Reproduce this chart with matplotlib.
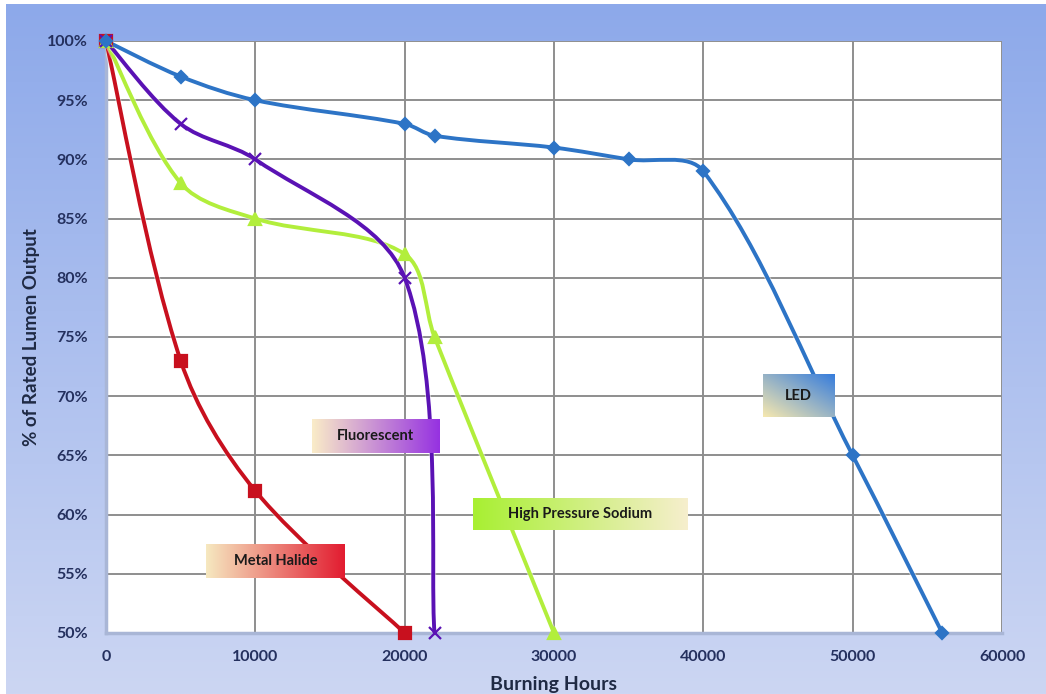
import numpy as np
import matplotlib
matplotlib.use("Agg")
import matplotlib.pyplot as plt
from matplotlib.path import Path
from matplotlib.patches import PathPatch
import matplotlib.patheffects as pe

plt.rcParams['font.family'] = ['Lato', 'DejaVu Sans']

# ---- data -------------------------------------------------------------
led_hours = [0, 5000, 10000, 20000, 22000, 30000, 35000, 40000, 50000, 56000]
led_pct = [100, 97, 95, 93, 92, 91, 90, 89, 65, 50]

fluor_hours = [0, 5000, 10000, 20000, 22000]
fluor_pct = [100, 93, 90, 80, 50]

hps_hours = [0, 5000, 10000, 20000, 22000, 30000]
hps_pct = [100, 88, 85, 82, 75, 50]

mh_hours = [0, 5000, 10000, 20000]
mh_pct = [100, 73, 62, 50]

x_ticks = [0, 10000, 20000, 30000, 40000, 50000, 60000]
y_ticks = [50, 55, 60, 65, 70, 75, 80, 85, 90, 95, 100]

W, H = 1046, 694
fig = plt.figure(figsize=(W / 100, H / 100), dpi=100)
fig.patch.set_facecolor('white')

# ---- blue gradient backdrop ------------------------------------------
bg = fig.add_axes([6 / W, 0, 1 - 6 / W, 1 - 4 / H])
top = np.array([141, 169, 234]) / 255
bot = np.array([204, 214, 243]) / 255
t = np.linspace(0, 1, 256)[:, None]
grad = top[None, :] * (1 - t) + bot[None, :] * t
grad = np.repeat(grad[:, None, :], 4, axis=1)
bg.imshow(grad, aspect='auto', extent=[0, 1, 0, 1], origin='upper')
bg.set_axis_off()

# ---- main plot --------------------------------------------------------
left, right = 106 / W, 1002 / W
bottom, topy = 1 - 633 / H, 1 - 41 / H
ax = fig.add_axes([left, bottom, right - left, topy - bottom])
ax.set_facecolor('white')
ax.set_zorder(2)
ax.set_xlim(0, 60000)
ax.set_ylim(50, 100)

ax.set_xticks(x_ticks)
ax.set_yticks(y_ticks)
ax.set_xticklabels([str(v) for v in x_ticks])
ax.set_yticklabels([f"{v}%" for v in y_ticks])
ax.grid(True, color='#8e8e8e', lw=1.4)
ax.set_axisbelow(True)
ax.tick_params(length=0, labelsize=11.5, labelcolor='#24305e')
ax.tick_params(axis='x', pad=12)
ax.tick_params(axis='y', pad=13)
for lab in ax.get_xticklabels() + ax.get_yticklabels():
    lab.set_fontweight('bold')
for s in ['top', 'right']:
    ax.spines[s].set_visible(False)
for s in ['left', 'bottom']:
    ax.spines[s].set_color('#a9b6d6')
    ax.spines[s].set_linewidth(2.5)

ax.set_xlabel('Burning Hours', fontsize=14, fontweight='bold', color='#1f2a44', labelpad=9)
ax.set_ylabel('% of Rated Lumen Output', fontsize=13.5, fontweight='bold', color='#1f2a44', labelpad=5)


def smooth_path(xs, ys):
    """Smoothed cubic Bezier through the points, with handles scaled by
    neighbouring segment lengths (computed in screen space)."""
    data = np.column_stack([xs, ys]).astype(float)
    pts = ax.transData.transform(data)
    n = len(pts)
    seg = np.linalg.norm(np.diff(pts, axis=0), axis=1)
    out_h, in_h = [None] * n, [None] * n
    for i in range(n):
        if i == 0:
            out_h[i] = pts[0] + (pts[1] - pts[0]) / 6.0
            continue
        if i == n - 1:
            in_h[i] = pts[i] - (pts[i] - pts[i - 1]) / 6.0
            continue
        d = pts[i + 1] - pts[i - 1]
        total = seg[i - 1] + seg[i]
        out_h[i] = pts[i] + d * (seg[i] / total) / 3.0
        in_h[i] = pts[i] - d * (seg[i - 1] / total) / 3.0
    verts = [pts[0]]
    codes = [Path.MOVETO]
    for i in range(n - 1):
        verts += [out_h[i], in_h[i + 1], pts[i + 1]]
        codes += [Path.CURVE4] * 3
    verts = ax.transData.inverted().transform(np.array(verts))
    return Path(verts, codes)


series = [
    (mh_hours, mh_pct, '#c8101e', 's', 8),
    (hps_hours, hps_pct, '#b2ee3c', '^', 8),
    (fluor_hours, fluor_pct, '#5a12b4', 'x', 8),
    (led_hours, led_pct, '#2d74c6', 'D', 6.5),
]

for xs, ys, col, mk, ms in series:
    patch = PathPatch(smooth_path(xs, ys), facecolor='none', edgecolor=col,
                      lw=2.8, transform=ax.transData, zorder=3, capstyle='round')
    patch.set_path_effects([pe.Stroke(linewidth=4.2, foreground='white', alpha=0.5), pe.Normal()])
    ax.add_patch(patch)
    ax.plot(xs, ys, linestyle='none', marker=mk, markersize=ms, color=col,
            markeredgecolor=col, markeredgewidth=1.6, zorder=4, clip_on=False)


def gradient_label(x0, x1, y0, y1, text, c_start, c_end, direction='h'):
    c0 = np.array(c_start) / 255
    c1 = np.array(c_end) / 255
    nx, ny = 128, 32
    u = np.linspace(0, 1, nx)[None, :]
    v = np.linspace(0, 1, ny)[:, None]
    if direction == 'h':
        f = np.repeat(u, ny, axis=0)
    else:
        f = np.clip((u + (1 - v)) / 2, 0, 1)
    img = c0[None, None, :] * (1 - f[..., None]) + c1[None, None, :] * f[..., None]
    ax.imshow(img, extent=[x0, x1, y0, y1], aspect='auto', origin='upper',
              zorder=5, interpolation='bilinear')
    ax.text((x0 + x1) / 2, (y0 + y1) / 2, text, ha='center', va='center',
            fontsize=10.5, fontweight='bold', color='#1a1a1a', zorder=6)


gradient_label(13800, 22350, 65.2, 68.0, 'Fluorescent', (250, 236, 200), (150, 50, 225))
gradient_label(6700, 16000, 54.65, 57.45, 'Metal Halide', (246, 232, 192), (226, 28, 48))
gradient_label(24570, 38950, 58.7, 61.4, 'High Pressure Sodium', (168, 240, 50), (246, 238, 205))
gradient_label(43980, 48800, 68.25, 71.8, 'LED', (246, 232, 175), (55, 125, 220), direction='d')

ax.set_xlim(0, 60000)
ax.set_ylim(50, 100)

fig.savefig('out.png', dpi=100)
